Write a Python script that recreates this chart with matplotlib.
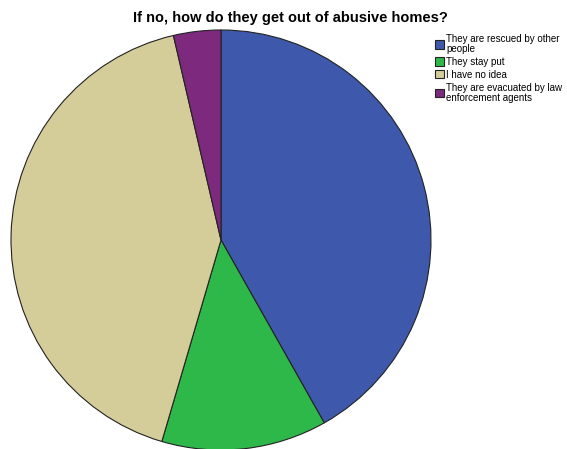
import matplotlib
matplotlib.use("Agg")
import matplotlib.pyplot as plt

categories = ["They are rescued by other\npeople", "They stay put", "I have no idea",
              "They are evacuated by law\nenforcement agents"]
counts = [23, 7, 23, 2]
colors = ["#3e58ac", "#2fb84a", "#d4cd9a", "#7d2a7e"]
title = "If no, how do they get out of abusive homes?"

plt.rcParams['font.family'] = ['Liberation Sans', 'DejaVu Sans']

W, H = 567, 449
fig = plt.figure(figsize=(W / 100, H / 100), dpi=100)
fig.patch.set_facecolor("white")

cx, cy, r = 221, 240, 210
ax = fig.add_axes([(cx - r) / W, (H - cy - r) / H, 2 * r / W, 2 * r / H])
wedges, _ = ax.pie(counts, colors=colors, startangle=90, counterclock=False,
                   radius=1, wedgeprops=dict(edgecolor="#222222", linewidth=0.8))
ax.set_xlim(-1, 1)
ax.set_ylim(-1, 1)
ax.set_aspect("equal")
ax.axis("off")

fig.text(290 / W, 1 - 18 / H, title, ha="center", va="center",
         fontsize=10.5, fontweight="bold")

leg = fig.legend(wedges, categories, loc="upper left",
                 bbox_to_anchor=(428 / W, 1 - 27 / H), frameon=False,
                 fontsize=7, handlelength=0.95, handleheight=0.95,
                 handletextpad=0.25, labelspacing=0.3, borderpad=0.2)
for h in leg.legend_handles:
    h.set_edgecolor("#222222")
    h.set_linewidth(0.8)
for t in leg.get_texts():
    t.set_linespacing(1.0)

fig.savefig("out.png", dpi=100)
